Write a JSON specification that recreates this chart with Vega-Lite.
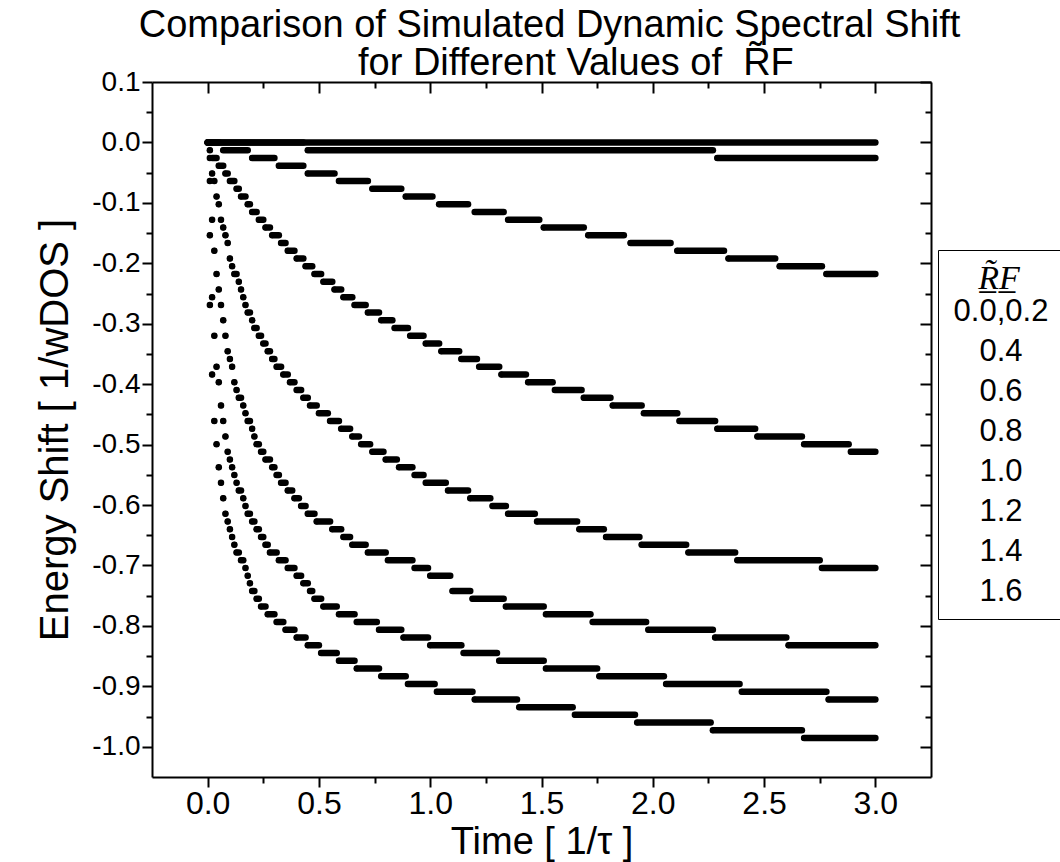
{
"$schema":"https://vega.github.io/schema/vega-lite/v6.json",
"width":779,"height":695,
"autosize":{"type":"none"},
"padding":{"left":152,"top":82,"right":129,"bottom":85},
"background":"white",
"config":{"view":{"stroke":null},"font":"Liberation Sans",
 "axis":{"grid":false,"domainColor":"black","domainWidth":2,"tickColor":"black","tickWidth":2,"labelColor":"black","titleColor":"black","labelFont":"Liberation Sans","titleFont":"Liberation Sans","titleFontWeight":"normal","labelFontSize":30,"titleFontSize":38}},
"title":{"text":["Comparison of Simulated Dynamic Spectral Shift","\u200b\u00a0\u00a0\u00a0\u00a0\u00a0for Different Values of \u00a0R\u0303F"],"fontSize":38,"font":"Liberation Sans","fontWeight":"normal","color":"black","lineHeight":38,"offset":-15,"anchor":"middle","frame":"group","dx":8},
"data":{"values":[
{"R":"0.0,0.2","t0":0,"t1":3,"E":0},
{"R":"0.4","t0":0,"t1":0.43,"E":0},
{"R":"0.4","t0":0.45,"t1":2.27,"E":-0.0128},
{"R":"0.4","t0":2.29,"t1":3,"E":-0.0256},
{"R":"0.6","t0":0,"t1":0.05,"E":0},
{"R":"0.6","t0":0.07,"t1":0.18,"E":-0.0128},
{"R":"0.6","t0":0.2,"t1":0.3,"E":-0.0256},
{"R":"0.6","t0":0.32,"t1":0.43,"E":-0.0384},
{"R":"0.6","t0":0.45,"t1":0.57,"E":-0.0512},
{"R":"0.6","t0":0.59,"t1":0.72,"E":-0.064},
{"R":"0.6","t0":0.74,"t1":0.87,"E":-0.0768},
{"R":"0.6","t0":0.89,"t1":1.01,"E":-0.0896},
{"R":"0.6","t0":1.04,"t1":1.17,"E":-0.1024},
{"R":"0.6","t0":1.2,"t1":1.33,"E":-0.1152},
{"R":"0.6","t0":1.35,"t1":1.49,"E":-0.128},
{"R":"0.6","t0":1.51,"t1":1.69,"E":-0.1408},
{"R":"0.6","t0":1.71,"t1":1.87,"E":-0.1536},
{"R":"0.6","t0":1.9,"t1":2.08,"E":-0.1664},
{"R":"0.6","t0":2.11,"t1":2.32,"E":-0.1792},
{"R":"0.6","t0":2.34,"t1":2.55,"E":-0.192},
{"R":"0.6","t0":2.57,"t1":2.76,"E":-0.2048},
{"R":"0.6","t0":2.78,"t1":3,"E":-0.2176},
{"R":"0.8","t0":0.01,"t1":0.01,"E":-0.0128},
{"R":"0.8","t0":0.02,"t1":0.04,"E":-0.0256},
{"R":"0.8","t0":0.05,"t1":0.07,"E":-0.0384},
{"R":"0.8","t0":0.08,"t1":0.09,"E":-0.0512},
{"R":"0.8","t0":0.1,"t1":0.12,"E":-0.064},
{"R":"0.8","t0":0.13,"t1":0.14,"E":-0.0768},
{"R":"0.8","t0":0.15,"t1":0.17,"E":-0.0896},
{"R":"0.8","t0":0.18,"t1":0.19,"E":-0.1024},
{"R":"0.8","t0":0.2,"t1":0.22,"E":-0.1152},
{"R":"0.8","t0":0.23,"t1":0.25,"E":-0.128},
{"R":"0.8","t0":0.26,"t1":0.28,"E":-0.1408},
{"R":"0.8","t0":0.29,"t1":0.32,"E":-0.1536},
{"R":"0.8","t0":0.33,"t1":0.35,"E":-0.1664},
{"R":"0.8","t0":0.36,"t1":0.39,"E":-0.1792},
{"R":"0.8","t0":0.4,"t1":0.43,"E":-0.192},
{"R":"0.8","t0":0.44,"t1":0.47,"E":-0.2048},
{"R":"0.8","t0":0.48,"t1":0.51,"E":-0.2176},
{"R":"0.8","t0":0.52,"t1":0.56,"E":-0.2304},
{"R":"0.8","t0":0.57,"t1":0.6,"E":-0.2432},
{"R":"0.8","t0":0.61,"t1":0.65,"E":-0.256},
{"R":"0.8","t0":0.66,"t1":0.71,"E":-0.2688},
{"R":"0.8","t0":0.72,"t1":0.77,"E":-0.2816},
{"R":"0.8","t0":0.78,"t1":0.83,"E":-0.2944},
{"R":"0.8","t0":0.84,"t1":0.9,"E":-0.3072},
{"R":"0.8","t0":0.91,"t1":0.97,"E":-0.32},
{"R":"0.8","t0":0.98,"t1":1.04,"E":-0.3328},
{"R":"0.8","t0":1.05,"t1":1.13,"E":-0.3456},
{"R":"0.8","t0":1.14,"t1":1.21,"E":-0.3584},
{"R":"0.8","t0":1.22,"t1":1.31,"E":-0.3712},
{"R":"0.8","t0":1.32,"t1":1.43,"E":-0.384},
{"R":"0.8","t0":1.44,"t1":1.55,"E":-0.3968},
{"R":"0.8","t0":1.56,"t1":1.68,"E":-0.4096},
{"R":"0.8","t0":1.69,"t1":1.81,"E":-0.4224},
{"R":"0.8","t0":1.82,"t1":1.95,"E":-0.4352},
{"R":"0.8","t0":1.96,"t1":2.11,"E":-0.448},
{"R":"0.8","t0":2.12,"t1":2.28,"E":-0.4608},
{"R":"0.8","t0":2.29,"t1":2.46,"E":-0.4736},
{"R":"0.8","t0":2.47,"t1":2.67,"E":-0.4864},
{"R":"0.8","t0":2.68,"t1":2.88,"E":-0.4992},
{"R":"0.8","t0":2.89,"t1":3,"E":-0.512},
{"R":"1.0","t0":0.01,"t1":0.01,"E":-0.0256},
{"R":"1.0","t0":0.02,"t1":0.02,"E":-0.0512},
{"R":"1.0","t0":0.03,"t1":0.03,"E":-0.064},
{"R":"1.0","t0":0.04,"t1":0.04,"E":-0.0896},
{"R":"1.0","t0":0.05,"t1":0.05,"E":-0.1024},
{"R":"1.0","t0":0.06,"t1":0.06,"E":-0.128},
{"R":"1.0","t0":0.07,"t1":0.07,"E":-0.1408},
{"R":"1.0","t0":0.08,"t1":0.08,"E":-0.1536},
{"R":"1.0","t0":0.09,"t1":0.09,"E":-0.1664},
{"R":"1.0","t0":0.1,"t1":0.1,"E":-0.192},
{"R":"1.0","t0":0.11,"t1":0.11,"E":-0.2048},
{"R":"1.0","t0":0.12,"t1":0.13,"E":-0.2176},
{"R":"1.0","t0":0.14,"t1":0.14,"E":-0.2304},
{"R":"1.0","t0":0.15,"t1":0.15,"E":-0.2432},
{"R":"1.0","t0":0.16,"t1":0.16,"E":-0.256},
{"R":"1.0","t0":0.17,"t1":0.17,"E":-0.2688},
{"R":"1.0","t0":0.18,"t1":0.19,"E":-0.2816},
{"R":"1.0","t0":0.2,"t1":0.2,"E":-0.2944},
{"R":"1.0","t0":0.21,"t1":0.22,"E":-0.3072},
{"R":"1.0","t0":0.23,"t1":0.24,"E":-0.32},
{"R":"1.0","t0":0.25,"t1":0.26,"E":-0.3328},
{"R":"1.0","t0":0.27,"t1":0.28,"E":-0.3456},
{"R":"1.0","t0":0.29,"t1":0.3,"E":-0.3584},
{"R":"1.0","t0":0.31,"t1":0.33,"E":-0.3712},
{"R":"1.0","t0":0.34,"t1":0.36,"E":-0.384},
{"R":"1.0","t0":0.37,"t1":0.39,"E":-0.3968},
{"R":"1.0","t0":0.4,"t1":0.42,"E":-0.4096},
{"R":"1.0","t0":0.43,"t1":0.45,"E":-0.4224},
{"R":"1.0","t0":0.46,"t1":0.49,"E":-0.4352},
{"R":"1.0","t0":0.5,"t1":0.54,"E":-0.448},
{"R":"1.0","t0":0.55,"t1":0.59,"E":-0.4608},
{"R":"1.0","t0":0.6,"t1":0.64,"E":-0.4736},
{"R":"1.0","t0":0.65,"t1":0.68,"E":-0.4864},
{"R":"1.0","t0":0.69,"t1":0.73,"E":-0.4992},
{"R":"1.0","t0":0.74,"t1":0.79,"E":-0.512},
{"R":"1.0","t0":0.8,"t1":0.85,"E":-0.5248},
{"R":"1.0","t0":0.86,"t1":0.92,"E":-0.5376},
{"R":"1.0","t0":0.93,"t1":0.97,"E":-0.5504},
{"R":"1.0","t0":0.98,"t1":1.07,"E":-0.5632},
{"R":"1.0","t0":1.08,"t1":1.17,"E":-0.576},
{"R":"1.0","t0":1.18,"t1":1.27,"E":-0.5888},
{"R":"1.0","t0":1.28,"t1":1.34,"E":-0.6016},
{"R":"1.0","t0":1.35,"t1":1.47,"E":-0.6144},
{"R":"1.0","t0":1.48,"t1":1.66,"E":-0.6272},
{"R":"1.0","t0":1.67,"t1":1.78,"E":-0.64},
{"R":"1.0","t0":1.79,"t1":1.94,"E":-0.6528},
{"R":"1.0","t0":1.95,"t1":2.15,"E":-0.6656},
{"R":"1.0","t0":2.16,"t1":2.37,"E":-0.6784},
{"R":"1.0","t0":2.38,"t1":2.75,"E":-0.6912},
{"R":"1.0","t0":2.76,"t1":3,"E":-0.704},
{"R":"1.2","t0":0.01,"t1":0.01,"E":-0.064},
{"R":"1.2","t0":0.02,"t1":0.02,"E":-0.128},
{"R":"1.2","t0":0.03,"t1":0.03,"E":-0.1792},
{"R":"1.2","t0":0.04,"t1":0.04,"E":-0.2176},
{"R":"1.2","t0":0.05,"t1":0.05,"E":-0.2432},
{"R":"1.2","t0":0.06,"t1":0.06,"E":-0.2688},
{"R":"1.2","t0":0.07,"t1":0.07,"E":-0.2944},
{"R":"1.2","t0":0.08,"t1":0.08,"E":-0.32},
{"R":"1.2","t0":0.09,"t1":0.09,"E":-0.3456},
{"R":"1.2","t0":0.1,"t1":0.1,"E":-0.3584},
{"R":"1.2","t0":0.11,"t1":0.11,"E":-0.3712},
{"R":"1.2","t0":0.12,"t1":0.12,"E":-0.3968},
{"R":"1.2","t0":0.13,"t1":0.13,"E":-0.4096},
{"R":"1.2","t0":0.14,"t1":0.15,"E":-0.4224},
{"R":"1.2","t0":0.16,"t1":0.16,"E":-0.4352},
{"R":"1.2","t0":0.17,"t1":0.17,"E":-0.448},
{"R":"1.2","t0":0.18,"t1":0.19,"E":-0.4608},
{"R":"1.2","t0":0.2,"t1":0.2,"E":-0.4736},
{"R":"1.2","t0":0.21,"t1":0.21,"E":-0.4864},
{"R":"1.2","t0":0.22,"t1":0.23,"E":-0.4992},
{"R":"1.2","t0":0.24,"t1":0.25,"E":-0.512},
{"R":"1.2","t0":0.26,"t1":0.28,"E":-0.5248},
{"R":"1.2","t0":0.29,"t1":0.3,"E":-0.5376},
{"R":"1.2","t0":0.31,"t1":0.32,"E":-0.5504},
{"R":"1.2","t0":0.33,"t1":0.35,"E":-0.5632},
{"R":"1.2","t0":0.36,"t1":0.38,"E":-0.576},
{"R":"1.2","t0":0.39,"t1":0.41,"E":-0.5888},
{"R":"1.2","t0":0.42,"t1":0.44,"E":-0.6016},
{"R":"1.2","t0":0.45,"t1":0.48,"E":-0.6144},
{"R":"1.2","t0":0.49,"t1":0.55,"E":-0.6272},
{"R":"1.2","t0":0.56,"t1":0.6,"E":-0.64},
{"R":"1.2","t0":0.61,"t1":0.64,"E":-0.6528},
{"R":"1.2","t0":0.65,"t1":0.71,"E":-0.6656},
{"R":"1.2","t0":0.72,"t1":0.8,"E":-0.6784},
{"R":"1.2","t0":0.81,"t1":0.92,"E":-0.6912},
{"R":"1.2","t0":0.93,"t1":0.99,"E":-0.704},
{"R":"1.2","t0":1,"t1":1.09,"E":-0.7168},
{"R":"1.2","t0":1.1,"t1":1.18,"E":-0.7424},
{"R":"1.2","t0":1.19,"t1":1.33,"E":-0.7552},
{"R":"1.2","t0":1.34,"t1":1.51,"E":-0.768},
{"R":"1.2","t0":1.52,"t1":1.72,"E":-0.7808},
{"R":"1.2","t0":1.73,"t1":1.97,"E":-0.7936},
{"R":"1.2","t0":1.98,"t1":2.27,"E":-0.8064},
{"R":"1.2","t0":2.28,"t1":2.6,"E":-0.8192},
{"R":"1.2","t0":2.61,"t1":3,"E":-0.832},
{"R":"1.4","t0":0.01,"t1":0.01,"E":-0.1536},
{"R":"1.4","t0":0.02,"t1":0.02,"E":-0.256},
{"R":"1.4","t0":0.03,"t1":0.03,"E":-0.32},
{"R":"1.4","t0":0.04,"t1":0.04,"E":-0.3712},
{"R":"1.4","t0":0.05,"t1":0.05,"E":-0.3968},
{"R":"1.4","t0":0.06,"t1":0.06,"E":-0.4352},
{"R":"1.4","t0":0.07,"t1":0.07,"E":-0.4608},
{"R":"1.4","t0":0.08,"t1":0.08,"E":-0.4864},
{"R":"1.4","t0":0.09,"t1":0.09,"E":-0.512},
{"R":"1.4","t0":0.1,"t1":0.1,"E":-0.5248},
{"R":"1.4","t0":0.11,"t1":0.11,"E":-0.5376},
{"R":"1.4","t0":0.12,"t1":0.12,"E":-0.5504},
{"R":"1.4","t0":0.13,"t1":0.13,"E":-0.5632},
{"R":"1.4","t0":0.14,"t1":0.15,"E":-0.576},
{"R":"1.4","t0":0.16,"t1":0.16,"E":-0.5888},
{"R":"1.4","t0":0.17,"t1":0.17,"E":-0.6016},
{"R":"1.4","t0":0.18,"t1":0.19,"E":-0.6144},
{"R":"1.4","t0":0.2,"t1":0.21,"E":-0.6272},
{"R":"1.4","t0":0.22,"t1":0.23,"E":-0.64},
{"R":"1.4","t0":0.24,"t1":0.25,"E":-0.6528},
{"R":"1.4","t0":0.26,"t1":0.27,"E":-0.6656},
{"R":"1.4","t0":0.28,"t1":0.31,"E":-0.6784},
{"R":"1.4","t0":0.32,"t1":0.35,"E":-0.6912},
{"R":"1.4","t0":0.36,"t1":0.39,"E":-0.704},
{"R":"1.4","t0":0.4,"t1":0.42,"E":-0.7168},
{"R":"1.4","t0":0.43,"t1":0.45,"E":-0.7296},
{"R":"1.4","t0":0.46,"t1":0.47,"E":-0.7424},
{"R":"1.4","t0":0.48,"t1":0.51,"E":-0.7552},
{"R":"1.4","t0":0.52,"t1":0.58,"E":-0.768},
{"R":"1.4","t0":0.59,"t1":0.66,"E":-0.7808},
{"R":"1.4","t0":0.67,"t1":0.76,"E":-0.7936},
{"R":"1.4","t0":0.77,"t1":0.87,"E":-0.8064},
{"R":"1.4","t0":0.88,"t1":0.99,"E":-0.8192},
{"R":"1.4","t0":1,"t1":1.14,"E":-0.832},
{"R":"1.4","t0":1.15,"t1":1.3,"E":-0.8448},
{"R":"1.4","t0":1.31,"t1":1.51,"E":-0.8576},
{"R":"1.4","t0":1.52,"t1":1.75,"E":-0.8704},
{"R":"1.4","t0":1.76,"t1":2.05,"E":-0.8832},
{"R":"1.4","t0":2.06,"t1":2.39,"E":-0.896},
{"R":"1.4","t0":2.4,"t1":2.78,"E":-0.9088},
{"R":"1.4","t0":2.79,"t1":3,"E":-0.9216},
{"R":"1.6","t0":0.01,"t1":0.01,"E":-0.2688},
{"R":"1.6","t0":0.02,"t1":0.02,"E":-0.384},
{"R":"1.6","t0":0.03,"t1":0.03,"E":-0.4608},
{"R":"1.6","t0":0.04,"t1":0.04,"E":-0.4992},
{"R":"1.6","t0":0.05,"t1":0.05,"E":-0.5376},
{"R":"1.6","t0":0.06,"t1":0.06,"E":-0.5632},
{"R":"1.6","t0":0.07,"t1":0.07,"E":-0.5888},
{"R":"1.6","t0":0.08,"t1":0.08,"E":-0.6144},
{"R":"1.6","t0":0.09,"t1":0.09,"E":-0.6272},
{"R":"1.6","t0":0.1,"t1":0.1,"E":-0.64},
{"R":"1.6","t0":0.11,"t1":0.11,"E":-0.6528},
{"R":"1.6","t0":0.12,"t1":0.12,"E":-0.6656},
{"R":"1.6","t0":0.13,"t1":0.14,"E":-0.6784},
{"R":"1.6","t0":0.15,"t1":0.16,"E":-0.6912},
{"R":"1.6","t0":0.17,"t1":0.17,"E":-0.704},
{"R":"1.6","t0":0.18,"t1":0.18,"E":-0.7168},
{"R":"1.6","t0":0.19,"t1":0.19,"E":-0.7296},
{"R":"1.6","t0":0.2,"t1":0.21,"E":-0.7424},
{"R":"1.6","t0":0.22,"t1":0.23,"E":-0.7552},
{"R":"1.6","t0":0.24,"t1":0.26,"E":-0.768},
{"R":"1.6","t0":0.27,"t1":0.3,"E":-0.7808},
{"R":"1.6","t0":0.31,"t1":0.34,"E":-0.7936},
{"R":"1.6","t0":0.35,"t1":0.39,"E":-0.8064},
{"R":"1.6","t0":0.4,"t1":0.44,"E":-0.8192},
{"R":"1.6","t0":0.45,"t1":0.5,"E":-0.832},
{"R":"1.6","t0":0.51,"t1":0.58,"E":-0.8448},
{"R":"1.6","t0":0.59,"t1":0.66,"E":-0.8576},
{"R":"1.6","t0":0.67,"t1":0.77,"E":-0.8704},
{"R":"1.6","t0":0.78,"t1":0.89,"E":-0.8832},
{"R":"1.6","t0":0.9,"t1":1.02,"E":-0.896},
{"R":"1.6","t0":1.03,"t1":1.19,"E":-0.9088},
{"R":"1.6","t0":1.2,"t1":1.39,"E":-0.9216},
{"R":"1.6","t0":1.4,"t1":1.64,"E":-0.9344},
{"R":"1.6","t0":1.65,"t1":1.92,"E":-0.9472},
{"R":"1.6","t0":1.93,"t1":2.26,"E":-0.96},
{"R":"1.6","t0":2.27,"t1":2.67,"E":-0.9728},
{"R":"1.6","t0":2.68,"t1":3,"E":-0.9856}
]},
"layer":[
{"mark":{"type":"rule","strokeWidth":6.5,"strokeCap":"round"},
 "encoding":{
  "x":{"field":"t0","type":"quantitative","scale":{"domain":[-0.25,3.25],"nice":false,"zero":false},
   "axis":{"orient":"bottom","values":[0,0.5,1,1.5,2,2.5,3],"format":".1f","tickSize":10,"labelPadding":1,"labelFontSize":32,"labelOverlap":false,"labelFlush":false,"title":"Time [ 1/\u03c4 ]","titlePadding":4}},
  "x2":{"field":"t1"},
  "y":{"field":"E","type":"quantitative","scale":{"domain":[-1.05,0.1],"nice":false,"zero":false},
   "axis":{"orient":"left","values":[0.1,0,-0.1,-0.2,-0.3,-0.4,-0.5,-0.6,-0.7,-0.8,-0.9,-1],"labelExpr":"replace(format(datum.value,'.1f'),'\u2212','-')","tickSize":10,"labelPadding":2,"labelFontSize":28,"labelOverlap":false,"labelFlush":false,"title":"Energy Shift [ 1/wDOS ]","titleFontSize":40,"titlePadding":16}},
  "color":{"field":"R","type":"nominal",
   "scale":{"domain":["0.0,0.2","0.4","0.6","0.8","1.0","1.2","1.4","1.6"],"range":["black","black","black","black","black","black","black","black"]},
   "legend":{"orient":"none","legendX":786,"legendY":168,"title":"R\u0303\u0332F\u0332","titleFont":"Liberation Serif","titleFontStyle":"italic","titleFontWeight":"normal","titleFontSize":34,"titleColor":"black","titleAnchor":"middle","titleAlign":"center","titlePadding":0,"labelFont":"Liberation Sans","labelFontSize":31,"labelColor":"black","labelAlign":"center","labelOffset":20,"symbolSize":0,"symbolOpacity":0,"symbolStrokeWidth":0,"strokeColor":"black","padding":12,"rowPadding":8}}
 }},
{"mark":{"type":"point","filled":true,"shape":"circle","size":34,"color":"black","opacity":1,"strokeWidth":0},
 "encoding":{
  "x":{"field":"t0","type":"quantitative","scale":{"domain":[-0.25,3.25],"nice":false,"zero":false},
   "axis":{"orient":"bottom","values":[0.25,0.75,1.25,1.75,2.25,2.75],"labels":false,"domain":false,"tickSize":6,"title":null}},
  "y":{"field":"E","type":"quantitative","scale":{"domain":[-1.05,0.1],"nice":false,"zero":false},
   "axis":{"orient":"left","values":[0.05,-0.05,-0.15,-0.25,-0.35,-0.45,-0.55,-0.65,-0.75,-0.85,-0.95],"labels":false,"domain":false,"tickSize":6,"title":null}}
 }},
{"mark":{"type":"point","opacity":0},
 "encoding":{
  "x":{"field":"t0","type":"quantitative","scale":{"domain":[-0.25,3.25],"nice":false,"zero":false},
   "axis":{"orient":"top","values":[0,0.5,1,1.5,2,2.5,3],"labels":false,"tickSize":-11,"title":null}},
  "y":{"field":"E","type":"quantitative","scale":{"domain":[-1.05,0.1],"nice":false,"zero":false},
   "axis":{"orient":"right","values":[0.1,0,-0.1,-0.2,-0.3,-0.4,-0.5,-0.6,-0.7,-0.8,-0.9,-1],"labels":false,"tickSize":-11,"title":null}}
 }},
{"mark":{"type":"point","opacity":0},
 "encoding":{
  "x":{"field":"t0","type":"quantitative","scale":{"domain":[-0.25,3.25],"nice":false,"zero":false},
   "axis":{"orient":"top","values":[0.25,0.75,1.25,1.75,2.25,2.75],"labels":false,"domain":false,"tickSize":-6,"title":null}},
  "y":{"field":"E","type":"quantitative","scale":{"domain":[-1.05,0.1],"nice":false,"zero":false},
   "axis":{"orient":"right","values":[0.05,-0.05,-0.15,-0.25,-0.35,-0.45,-0.55,-0.65,-0.75,-0.85,-0.95],"labels":false,"domain":false,"tickSize":-6,"title":null}}
 }}
],
"resolve":{"axis":{"x":"independent","y":"independent"}}
}
